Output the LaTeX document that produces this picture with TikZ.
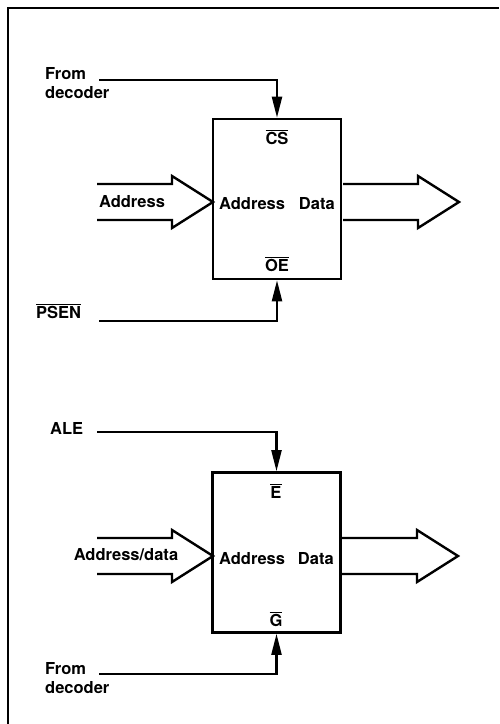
\documentclass[tikz,border=0pt]{standalone}
\usepackage{fontspec}
\setmainfont{TeX Gyre Heros}
\usetikzlibrary{arrows.meta,positioning}

\newcommand{\actlow}[1]{$\overline{\mbox{#1}}$}

\tikzset{
  chip/.style={draw, line width=2.6pt, minimum width=128pt, minimum height=160pt, inner sep=0pt},
  sig/.style={line width=2.2pt, -{Triangle[length=21pt,width=10pt]}},
  bus/.style={line width=2.4pt, line join=miter},
  lbl/.style={inner sep=0pt},
}

\begin{document}
\begin{tikzpicture}[x=1pt, y=-1pt, font=\fontsize{16.5}{19}\selectfont\bfseries]
  \useasboundingbox (0,0) rectangle (499,724);
  \draw[line width=2pt] (8,724) -- (8,8) -- (499,8);

  % upper block
  \node[chip] (rom) at (277,199) {};
  \node[lbl, anchor=west] (romaddr) at (219,204) {Address};
  \node[lbl, anchor=east] (romdata) at (335,204) {Data};
  \node[lbl] (cs) at (277,137) {\actlow{CS}};
  \node[lbl] (oe) at (277,264) {\actlow{OE}};

  \node[lbl, align=left, anchor=north west] (dec1) at (45,67) {From\\decoder};
  \coordinate (dec1end) at (99,80);
  \draw[sig] (dec1end) -| (rom.north);

  \node[lbl, anchor=west] (psen) at (36,311) {\actlow{PSEN}};
  \coordinate (psenend) at (99,321);
  \draw[sig] (psenend) -| (rom.south);

  \node[lbl] (addrin) at (132,202) {Address};

  % lower block
  \node[chip] (latch) at (276.5,552.5) {};
  \node[lbl, anchor=west] (latchaddr) at (219,559) {Address};
  \node[lbl, anchor=east] (latchdata) at (334,559) {Data};
  \node[lbl] (en) at (276,491) {\actlow{E}};
  \node[lbl] (gt) at (276,619) {\actlow{G}};

  \node[lbl, anchor=west] (ale) at (50,428) {ALE};
  \coordinate (aleend) at (97,432);
  \draw[sig] (aleend) -| (latch.north);

  \node[lbl, align=left, anchor=north west] (dec2) at (45,662) {From\\decoder};
  \coordinate (dec2end) at (99,674);
  \draw[sig] (dec2end) -| (latch.south);

  \node[lbl] (adin) at (126,555) {Address/data};

  % bus arrows
  \foreach \tx/\ty in {213/202, 459/202, 213/556, 458/556}
    \draw[bus] (\tx-116,\ty-18) -- (\tx-41,\ty-18) -- (\tx-41,\ty-26) -- (\tx,\ty)
      -- (\tx-41,\ty+26) -- (\tx-41,\ty+18) -- (\tx-116,\ty+18);
\end{tikzpicture}
\end{document}
